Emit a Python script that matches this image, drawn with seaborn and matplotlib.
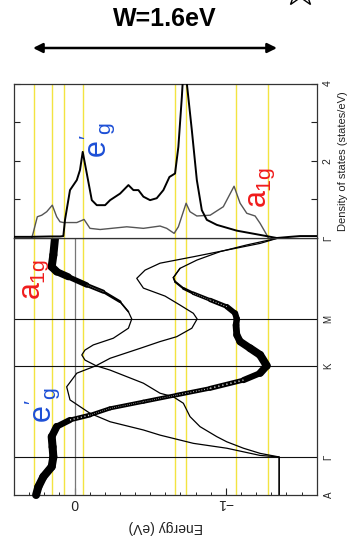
import numpy as np
import pandas as pd
import matplotlib
matplotlib.use("Agg")
import matplotlib.pyplot as plt
import seaborn as sns
from matplotlib.collections import LineCollection
from matplotlib.lines import Line2D
from matplotlib.patches import FancyArrowPatch

sns.set_theme(style="white")
plt.rcParams['font.family'] = ['Liberation Sans', 'DejaVu Sans']
plt.rcParams['mathtext.fontset'] = 'custom'
plt.rcParams['mathtext.rm'] = 'Liberation Sans'
plt.rcParams['mathtext.it'] = 'Liberation Sans'
plt.rcParams['mathtext.bf'] = 'Liberation Sans:bold'

# ---------------- data ----------------
k_nodes = [0.0, 0.148, 0.502, 0.685, 1.0]
k_labels = ['A', 'Γ', 'K', 'M', 'Γ']

# band with strong a1g weight from A through K and M (turns back to Gamma)
bandT_k = [0.000, 0.032, 0.071, 0.110, 0.148, 0.187, 0.227, 0.266, 0.292, 0.311, 0.337, 0.363,
           0.389, 0.415, 0.447, 0.474, 0.503, 0.545, 0.571, 0.597, 0.623, 0.661, 0.685,
           0.707, 0.733, 0.759, 0.785, 0.804, 0.830, 0.846, 0.882, 0.914, 0.947, 0.973, 1.000]
bandT_E = [0.254, 0.239, 0.206, 0.151, 0.140, 0.145, 0.151, 0.118, 0.030, -0.102, -0.234, -0.455,
           -0.675, -0.896, -1.116, -1.226, -1.270, -1.226, -1.160, -1.094, -1.072, -1.067, -1.072,
           -1.061, -1.006, -0.896, -0.785, -0.719, -0.664, -0.653, -0.697, -0.808, -0.962, -1.138, -1.347]
bandT_w = [1.0, 1.0, 1.0, 1.0, 1.0, 1.0, 1.0, 0.85, 0.6, 0.45, 0.42, 0.42,
           0.45, 0.5, 0.6, 0.85, 1.0, 1.0, 0.95, 0.9, 0.85, 0.8, 0.75,
           0.7, 0.55, 0.4, 0.3, 0.2, 0.1, 0.05, 0.0, 0.0, 0.0, 0.0, 0.0]

# band that is a1g-like at the upper Gamma
band1_k = [0.000, 0.148, 0.162, 0.182, 0.207, 0.227, 0.266, 0.305, 0.357, 0.382, 0.396, 0.435,
           0.486, 0.503, 0.525, 0.545, 0.564, 0.584, 0.610, 0.649, 0.685, 0.713, 0.752,
           0.791, 0.817, 0.849, 0.869, 0.888, 0.934, 1.000]
band1_E = [-1.352, -1.352, -1.226, -1.116, -1.006, -0.940, -0.829, -0.763, -0.719, -0.653, -0.565, -0.455,
           -0.235, -0.142, -0.069, -0.048, -0.069, -0.124, -0.256, -0.356, -0.378, -0.356, -0.301,
           -0.190, -0.081, 0.041, 0.118, 0.151, 0.140, 0.129]
band1_w = [0.0, 0.0, 0.0, 0.0, 0.0, 0.0, 0.0, 0.0, 0.0, 0.0, 0.0, 0.0,
           0.0, 0.0, 0.0, 0.0, 0.0, 0.0, 0.0, 0.0, 0.0, 0.0, 0.15,
           0.35, 0.5, 0.75, 0.95, 1.0, 1.0, 1.0]

# pure e'g band
bandA_k = [0.000, 0.148, 0.154, 0.182, 0.201, 0.233, 0.253, 0.285, 0.318, 0.370, 0.421, 0.474,
           0.503, 0.532, 0.572, 0.597, 0.616, 0.649, 0.685, 0.707, 0.739, 0.774, 0.805,
           0.843, 0.875, 0.902, 0.927, 0.953, 0.979, 1.000]
bandA_E = [-1.352, -1.352, -1.226, -1.006, -0.785, -0.565, -0.455, -0.235, -0.102, 0.030, 0.052, -0.015,
           -0.142, -0.235, -0.440, -0.565, -0.675, -0.775, -0.810, -0.785, -0.697, -0.598, -0.455,
           -0.411, -0.466, -0.565, -0.785, -1.006, -1.226, -1.347]

# density of states
dos_eg_E = [0.400, 0.294, 0.162, 0.096, 0.074, 0.063, 0.030, -0.015, -0.036, -0.054, -0.081, -0.114,
            -0.147, -0.202, -0.235, -0.301, -0.356, -0.389, -0.422, -0.455, -0.499, -0.543, -0.587,
            -0.627, -0.664, -0.686, -0.709, -0.726, -0.742, -0.775, -0.808, -0.841, -0.874, -0.940,
            -1.072, -1.226, -1.336, -1.424, -1.490, -1.600]
dos_eg_D = [0.03, 0.03, 0.04, 0.04, 0.05, 0.47, 1.24, 1.50, 1.76, 2.23, 1.67, 0.98,
            0.85, 0.85, 0.98, 1.15, 1.37, 1.24, 1.24, 1.07, 0.98, 1.03, 1.24,
            1.58, 1.67, 2.36, 3.65, 4.8, 4.0, 2.79, 1.50, 0.72, 0.47, 0.34,
            0.19, 0.08, 0.00, 0.03, 0.05, 0.05]

dos_a1g_E = [0.283, 0.274, 0.246, 0.217, 0.184, 0.147, 0.118, 0.096, 0.074, -0.015, -0.063, -0.102,
             -0.169, -0.345, -0.455, -0.565, -0.609, -0.658, -0.686, -0.737, -0.763, -0.808, -0.896,
             -0.983, -1.054, -1.094, -1.138, -1.193, -1.226, -1.270, -1.281]
dos_a1g_D = [0.00, 0.12, 0.55, 0.59, 0.68, 0.85, 0.55, 0.42, 0.40, 0.40, 0.48, 0.25,
             0.22, 0.29, 0.25, 0.31, 0.25, 0.12, 0.29, 0.90, 0.68, 0.57, 0.59,
             0.81, 1.34, 0.90, 0.64, 0.57, 0.38, 0.08, 0.00]

guide_E = [0.266, 0.147, 0.069, -0.058, -0.662, -0.735, -1.065, -1.281]

E_ticks = [0.0, -1.0]
E_ticklabels = ['0', '−1']
dos_ticks = [1, 2, 3, 4]
dos_ticklabels = ['', '2', '', '4']

# ---------------- figure ----------------
W, H = 360, 547
fig = plt.figure(figsize=(W / 100, H / 100), dpi=100)
fig.patch.set_facecolor('white')
x0, x1 = 14, 316.7
yb0, yb1 = 495, 238
yd1 = 83.5
ax_b = fig.add_axes([x0 / W, 1 - yb0 / H, (x1 - x0) / W, (yb0 - yb1) / H])
ax_d = fig.add_axes([x0 / W, 1 - yb1 / H, (x1 - x0) / W, (yb1 - yd1) / H])

YEL = '#f3e441'
for ax in (ax_b, ax_d):
    ax.set_facecolor('white')
    for e in guide_E:
        ax.axvline(e, color=YEL, lw=1.0, zorder=0.5)
    for s in ax.spines.values():
        s.set_color('#333333')
        s.set_linewidth(0.9)

# ----- bands -----
ax_b.axvline(0.0, color='#777777', lw=0.9, zorder=0.6)
for kn in k_nodes[1:4]:
    ax_b.axhline(kn, color='#111111', lw=0.8, zorder=0.7)

bands = [(bandT_k, bandT_E, bandT_w), (band1_k, band1_E, band1_w),
         (bandA_k, bandA_E, [0.0] * len(bandA_k))]
for kk, ee, ww in bands:
    df = pd.DataFrame({'E': ee, 'k': kk})
    sns.lineplot(data=df, x='E', y='k', sort=False, estimator=None, color='black',
                 lw=0.9, ax=ax_b, zorder=2)
    pts = np.column_stack([ee, kk])
    segs, widths, isegs, iwidths = [], [], [], []
    for i in range(len(pts) - 1):
        wm = 0.5 * (ww[i] + ww[i + 1])
        if wm > 0.02:
            lw_out = 0.8 + 5.0 * wm
            segs.append([pts[i], pts[i + 1]])
            widths.append(lw_out)
            if 0.25 < wm < 0.62:
                isegs.append([pts[i], pts[i + 1]])
                iwidths.append(max(lw_out - 2.4, 0.6))
    if segs:
        lc = LineCollection(segs, linewidths=widths, colors='black', capstyle='round',
                            joinstyle='round', zorder=3, clip_on=False)
        ax_b.add_collection(lc)
    if isegs:
        lci = LineCollection(isegs, linewidths=iwidths, colors='#d0d0d0',
                             linestyles=(0, (0.8, 1.8)), capstyle='butt', zorder=3.5)
        ax_b.add_collection(lci)

ax_b.set_xlim(0.4, -1.6)
ax_b.set_ylim(0, 1)
ax_b.set_xticks(E_ticks)
ax_b.set_xticklabels(E_ticklabels, rotation=180, fontsize=10)
ax_b.set_xticks(np.round(np.arange(-1.6, 0.41, 0.1), 2), minor=True)
ax_b.tick_params(axis='x', which='major', direction='in', length=5, width=0.8,
                 bottom=True, top=False, pad=1, colors='#222222')
ax_b.tick_params(axis='x', which='minor', direction='in', length=2.5, width=0.7,
                 bottom=True, top=False)
ax_b.set_xlabel('Energy (eV)', rotation=180, fontsize=10, labelpad=7, color='#222222')

ax_b.yaxis.tick_right()
ax_b.set_yticks(k_nodes)
ax_b.set_yticklabels(k_labels, rotation=90, fontsize=7, va='center')
ax_b.tick_params(axis='y', length=0, pad=5, right=True, left=False, colors='#222222')
ax_b.set_ylabel('')

# ----- DOS -----
df_eg = pd.DataFrame({'E': dos_eg_E, 'D': dos_eg_D})
df_a = pd.DataFrame({'E': dos_a1g_E, 'D': dos_a1g_D})
sns.lineplot(data=df_a, x='E', y='D', sort=False, estimator=None, color='#555555',
             lw=1.0, ax=ax_d, zorder=2)
sns.lineplot(data=df_eg, x='E', y='D', sort=False, estimator=None, color='black',
             lw=1.4, ax=ax_d, zorder=3)
ax_d.set_xlim(0.4, -1.6)
ax_d.set_ylim(0, 4)
ax_d.set_xlabel('')
ax_d.tick_params(axis='x', bottom=False, top=False, labelbottom=False)
ax_d.set_yticks(dos_ticks)
ax_d.set_yticklabels(dos_ticklabels, rotation=90, fontsize=7.5, va='center')
ax_d.yaxis.set_ticks_position('both')
ax_d.tick_params(axis='y', direction='in', length=4, width=0.8, left=True, right=True,
                 labelleft=False, labelright=True, pad=4, colors='#222222')
ax_d.yaxis.set_label_position('right')
ax_d.set_ylabel('Density of states (states/eV)', rotation=90, fontsize=8, labelpad=4,
                color='#222222')

# ----- orbital labels -----
RED = '#f01c1c'
BLUE = '#1d4fd6'
ax_d.text(0.275, 0.634, r"$e'_g$", transform=ax_d.transAxes, rotation=90, color=BLUE,
          fontsize=22, ha='center', va='center')
ax_d.text(0.819, 0.33, r"$a_{1g}$", transform=ax_d.transAxes, rotation=90, color=RED,
          fontsize=22, ha='center', va='center')
ax_b.text(0.073, 0.84, r"$a_{1g}$", transform=ax_b.transAxes, rotation=90, color=RED,
          fontsize=22, ha='center', va='center')
ax_b.text(0.0925, 0.35, r"$e'_g$", transform=ax_b.transAxes, rotation=90, color=BLUE,
          fontsize=22, ha='center', va='center')

# ----- title, arrow and star -----
fig.text(165 / W, 1 - 19 / H, 'W=1.6eV', ha='center', va='center', fontsize=18,
         fontweight='bold', color='black')
arr = FancyArrowPatch(posA=(33 / W, 1 - 48 / H), posB=(277 / W, 1 - 48 / H),
                      transform=fig.transFigure, arrowstyle='<|-|>', mutation_scale=14,
                      lw=1.8, color='black', shrinkA=0, shrinkB=0)
fig.add_artist(arr)
star = Line2D([300 / W], [1 + 9 / H], transform=fig.transFigure, marker='*', markersize=24,
              markerfacecolor='white', markeredgecolor='black', markeredgewidth=1.0,
              linestyle='none', clip_on=False)
fig.add_artist(star)

fig.savefig('out.png', dpi=100, facecolor='white')
